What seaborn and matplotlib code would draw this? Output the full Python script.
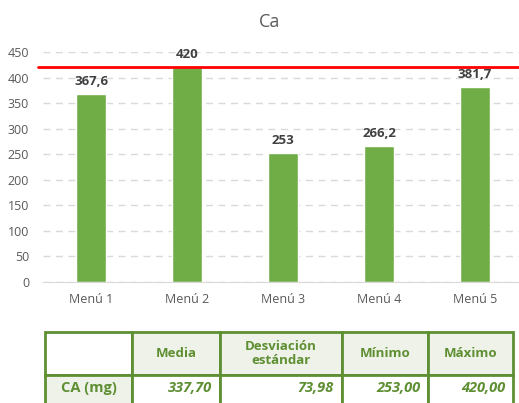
import matplotlib
matplotlib.use("Agg")
import matplotlib.pyplot as plt
from matplotlib.patches import Rectangle
import pandas as pd
import seaborn as sns

# data
menus = ["Menú 1", "Menú 2", "Menú 3", "Menú 4", "Menú 5"]
ca_values = [367.6, 420, 253, 266.2, 381.7]
bar_labels = ["367,6", "420", "253", "266,2", "381,7"]
ref_line = 421

# summary table
table_header = ["", "Media", "Desviación\nestándar", "Mínimo", "Máximo"]
table_row = ["CA (mg)", "337,70", "73,98", "253,00", "420,00"]

GREEN = "#70ad47"
DARK_GREEN = "#5f8f33"
GRID = "#d9d9d9"
TEXT = "#595959"

sns.set_style("white")
plt.rcParams["font.family"] = ["Open Sans", "DejaVu Sans"]

fig = plt.figure(figsize=(5.19, 4.03), dpi=100)
ax = fig.add_axes([43 / 519, 121 / 403, 480 / 519, 230 / 403])

df = pd.DataFrame({"Menu": menus, "Ca": ca_values})
sns.barplot(data=df, x="Menu", y="Ca", color=GREEN, width=0.32,
            saturation=1, ax=ax, zorder=3)

ax.set_ylim(0, 450)
ax.set_xlim(-0.5, len(menus) - 0.5)
ax.set_yticks(range(0, 451, 50))
ax.yaxis.grid(True, color=GRID, linestyle=(0, (5, 4)), linewidth=1, zorder=0)
ax.set_axisbelow(True)
for s in ["top", "right", "left"]:
    ax.spines[s].set_visible(False)
ax.spines["bottom"].set_color(GRID)
ax.tick_params(axis="both", length=0, labelsize=9, colors=TEXT)
ax.tick_params(axis="x", pad=8)
ax.tick_params(axis="y", pad=10)
ax.set_xlabel("")
ax.set_ylabel("")

for i, (v, lab) in enumerate(zip(ca_values, bar_labels)):
    ax.text(i, v + 12, lab, ha="center", va="bottom", fontsize=9.5,
            fontweight="bold", color="#404040", zorder=5)

ax.axhline(ref_line, color="#ff0000", linewidth=2, zorder=4,
           xmin=-0.01, clip_on=False)

fig.text(270 / 519, 1 - 22 / 403, "Ca", ha="center", va="center",
         fontsize=13, color=TEXT)

# table drawn in figure pixel coordinates
tab = fig.add_axes([0, 0, 1, 1], zorder=10)
tab.set_xlim(0, 519)
tab.set_ylim(403, 0)
tab.axis("off")

col_x = [45, 132, 220, 342, 428, 513]
row_y = [332, 375, 418]
for r in range(2):
    for c in range(5):
        x0, x1 = col_x[c], col_x[c + 1]
        y0, y1 = row_y[r], row_y[r + 1]
        face = "#eef2e9" if (r == 0 or c == 0) else "white"
        if r == 0 and c == 0:
            face = "white"
        tab.add_patch(Rectangle((x0, y0), x1 - x0, y1 - y0, facecolor=face,
                                edgecolor=DARK_GREEN, linewidth=2))

for c in range(1, 5):
    tab.text((col_x[c] + col_x[c + 1]) / 2, (row_y[0] + row_y[1]) / 2,
             table_header[c], ha="center", va="center", fontsize=9.5,
             fontweight="bold", color=DARK_GREEN, linespacing=1.0)

tab.text((col_x[0] + col_x[1]) / 2, 388, table_row[0], ha="center",
         va="center", fontsize=10.5, fontweight="bold", color=DARK_GREEN)
for c in range(1, 5):
    tab.text(col_x[c + 1] - 8, 388, table_row[c], ha="right", va="center",
             fontsize=10.5, fontweight="bold", fontstyle="italic",
             color=DARK_GREEN)

fig.savefig("out.png", dpi=100)
